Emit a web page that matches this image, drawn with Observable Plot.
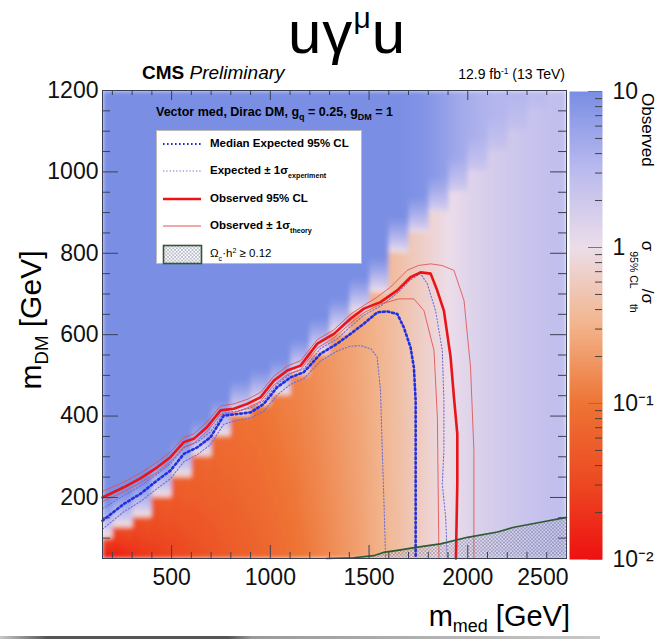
<!DOCTYPE html>
<html>
<head>
<meta charset="utf-8">
<script src="https://cdn.jsdelivr.net/npm/d3@7"></script>
<script src="https://cdn.jsdelivr.net/npm/@observablehq/plot@0.6"></script>
<style>
  html, body { margin: 0; padding: 0; background: #fff; }
  #chart { position: relative; width: 656px; height: 640px; overflow: hidden;
           font-family: "Liberation Sans", Arial, Helvetica, sans-serif; color: #000; }
  #chart > svg { position: absolute; top: 0; }
  .abs { position: absolute; white-space: nowrap; line-height: 1; }
  sub, sup { line-height: 0; }
  #title { left: 288px; top: 3px; font-size: 60px; line-height: 60px; letter-spacing: 1px; }
  #title sup { font-size: 0.5em; vertical-align: 0.85em; }
  #cms { left: 142px; top: 63px; font-size: 19px; }
  #lumi { right: 91px; top: 67px; font-size: 14px; }
  #lumi sup { font-size: 0.6em; vertical-align: 0.6em; }
  #header { left: 156px; top: 106px; font-size: 12.5px; font-weight: bold; }
  #header sub { font-size: 0.72em; vertical-align: -0.45em; }
  #legend { left: 156px; top: 130px; width: 206px; height: 134px; background: #fff;
            border: 1px solid #bbb; box-sizing: border-box; }
  .row { position: absolute; left: 0; height: 24px; display: flex; align-items: center; }
  .row svg { position: static; margin-left: 4px; }
  .row span { margin-left: 7px; font-size: 11.5px; font-weight: bold; white-space: nowrap; }
  .row span sub { font-size: 0.62em; vertical-align: -0.5em; }
  .row span sup { font-size: 0.62em; vertical-align: 0.6em; }
  #ylab { left: 31px; top: 320px; font-size: 30px; transform: translate(-50%, -50%) rotate(-90deg); }
  #ylab sub, #xlab sub { font-size: 0.62em; vertical-align: -0.35em; }
  #xlab { right: 86px; top: 602px; font-size: 29px; }
  #ztitle { left: 0; top: 0; font-size: 17px; transform-origin: 0 0;
            transform: translate(656px, 93px) rotate(90deg); }
  #ztitle sub { font-size: 0.62em; vertical-align: -1.1em; }
  #baseline { left: 0; top: 636px; width: 600px; height: 3px;
              background: linear-gradient(to right, #c8c8c8 0%, #555 8%, #555 38%, #9a9a9a 42%, #c8c8c8 100%); }
</style>
</head>
<body>
<div id="chart"></div>
<script>
// ---------- exclusion contours (m_med, m_DM) in GeV ----------
const obsMed = [150, 258, 342, 427, 494, 562, 612, 680, 748, 815, 883, 950, 1018, 1086, 1153, 1238, 1322, 1406, 1474, 1558, 1643, 1710, 1761, 1812, 1845, 1879, 1913, 1930, 1947, 1947, 1940];
const obsDM  = [200, 225, 247, 274, 299, 336, 344, 373, 414, 418, 430, 446, 487, 512, 524, 578, 602, 639, 664, 680, 709, 741, 753, 750, 709, 659, 545, 446, 356, 234, 50];

const thUpMed = [150, 258, 342, 427, 494, 562, 612, 680, 748, 815, 883, 950, 1018, 1086, 1153, 1238, 1322, 1406, 1474, 1540, 1609, 1693, 1750, 1812, 1870, 1930, 1981, 2014, 2031, 2031];
const thUpDM  = [215, 238, 260, 287, 312, 348, 356, 386, 425, 430, 441, 458, 498, 523, 536, 588, 612, 650, 672, 692, 717, 758, 770, 774, 770, 758, 684, 520, 315, 50];

const thDnMed = [150, 258, 342, 427, 494, 562, 612, 680, 748, 815, 883, 950, 1018, 1086, 1153, 1238, 1322, 1406, 1474, 1558, 1650, 1727, 1778, 1829, 1846, 1854];
const thDnDM  = [190, 214, 236, 262, 288, 324, 333, 362, 404, 408, 420, 436, 476, 502, 514, 567, 592, 628, 654, 675, 688, 688, 659, 561, 397, 50];

const expMed = [150, 258, 342, 427, 494, 562, 630, 697, 764, 832, 900, 967, 1035, 1102, 1170, 1254, 1339, 1406, 1474, 1542, 1592, 1643, 1676, 1710, 1727, 1736, 1736, 1736];
const expDM  = [143, 184, 209, 242, 266, 307, 323, 348, 401, 405, 409, 430, 471, 495, 508, 553, 578, 602, 627, 655, 657, 651, 618, 569, 520, 438, 315, 50];

const expUpMed = [150, 258, 342, 427, 494, 562, 630, 697, 764, 832, 900, 967, 1035, 1102, 1170, 1254, 1339, 1406, 1474, 1558, 1643, 1710, 1761, 1795, 1837, 1871, 1879, 1879, 1871, 1888, 1896];
const expUpDM  = [172, 205, 228, 258, 283, 322, 336, 361, 408, 412, 420, 438, 479, 504, 516, 566, 590, 620, 648, 670, 702, 735, 750, 725, 659, 561, 438, 315, 233, 151, 50];

const expDnMed = [150, 258, 342, 427, 494, 562, 630, 697, 764, 832, 900, 967, 1035, 1102, 1170, 1254, 1339, 1406, 1457, 1510, 1541, 1558, 1567, 1576, 1584];
const expDnDM  = [122, 165, 190, 222, 246, 288, 305, 330, 380, 390, 395, 412, 452, 478, 492, 535, 560, 572, 573, 565, 545, 463, 315, 180, 50];

// relic density boundary (region below is overabundant)
const relicMed = [1285, 1421, 1523, 1573, 1644, 1746, 1862, 1999, 2151, 2234, 2369, 2500];
const relicDM  = [50, 52, 57, 65, 70, 78, 86, 102, 115, 127, 139, 151];

// ---------- sigma95/sigma_th map, per 100 GeV m_med column ----------
const colMed       = [150, 200, 300, 400, 500, 600, 700, 800, 900, 1000, 1100, 1200, 1300, 1400, 1500, 1600, 1700, 1800, 1900, 2000, 2100, 2200, 2300, 2400];
const colEdgeDM    = [100, 125, 150, 200, 250, 300, 350, 400, 425, 450, 500, 550, 600, 650, 700, 800, 850, 900, 950, 1000, 1050, 1100, 1150, 1200];
const colRatioLow  = [0.011, 0.014, 0.02, 0.025, 0.03, 0.037, 0.045, 0.055, 0.065, 0.08, 0.1, 0.13, 0.17, 0.22, 0.3, 0.42, 0.6, 0.85, 1.15, 1.5, 1.8, 2.1, 2.4, 2.7];
const colRatioHigh = [0.03, 0.035, 0.04, 0.05, 0.06, 0.07, 0.08, 0.09, 0.1, 0.12, 0.14, 0.17, 0.21, 0.26, 0.33, 0.45, 0.62, 0.85, 1.15, 1.5, 1.8, 2.1, 2.4, 2.7];
const colRatioFar  = [10, 10, 10, 10, 10, 10, 10, 10, 10, 10, 10, 10, 10, 10, 10, 10, 9, 7, 5, 4, 3.5, 3.5, 3.5, 3.5];

// ---------- axis ticks ----------
const xMajor = [500, 1000, 1500, 2000, 2500];
const xMinor = [200, 300, 400, 600, 700, 800, 900, 1100, 1200, 1300, 1400, 1600, 1700, 1800, 1900, 2100, 2200, 2300, 2400];
const yMajor = [200, 400, 600, 800, 1000, 1200];
const yMinor = [100, 150, 250, 300, 350, 450, 500, 550, 650, 700, 750, 850, 900, 950, 1050, 1100, 1150];
const zMajor = [0.01, 0.1, 1, 10];
const zMinor = [0.02, 0.03, 0.04, 0.05, 0.06, 0.07, 0.08, 0.09, 0.2, 0.3, 0.4, 0.5, 0.6, 0.7, 0.8, 0.9, 2, 3, 4, 5, 6, 7, 8, 9];
const zLabels = {0.01: "10⁻²", 0.1: "10⁻¹", 1: "1", 10: "10"};

// palette from red (strong exclusion) through white to blue
const palette = ["#ee1111", "#ec4a22", "#ee7434", "#f2b48c", "#ecdde9", "#babaee", "#7a8ee4"];
const colorOpts = {type: "log", domain: [0.01, 10], clamp: true, interpolate: d3.piecewise(d3.interpolateRgb, palette)};

const FONT = '"Liberation Sans", Arial, Helvetica, sans-serif';
const tickStroke = "#3b4058";
const plain = d => String(d);

// column centres for smooth log interpolation along m_med
const colCentre = colMed.map((m, i) => (m + (i + 1 < colMed.length ? colMed[i + 1] : 2500)) / 2);
function logAt(arr, m) {
  const j = d3.bisectRight(colCentre, m);
  if (j <= 0) return Math.log10(arr[0]);
  if (j >= colCentre.length) return Math.log10(arr[arr.length - 1]);
  const t = (m - colCentre[j - 1]) / (colCentre[j] - colCentre[j - 1]);
  return Math.log10(arr[j - 1]) * (1 - t) + Math.log10(arr[j]) * t;
}
function ratioAt(m, d) {
  const i = Math.max(0, d3.bisectRight(colMed, m) - 1);
  const edge = colEdgeDM[i];
  const lo = logAt(colRatioLow, m), hi = logAt(colRatioHigh, m);
  if (d <= edge) {
    const t = Math.max(0, (d - 50) / (edge - 50));
    return 10 ** (lo + (hi - lo) * t);
  }
  const far = logAt(colRatioFar, m);
  const start = Math.max(hi, Math.log10(0.3));
  const t = Math.min(1, (d - edge) / 90);
  return 10 ** (start + (far - start) * Math.sqrt(t));
}

// plot frame geometry: 464 x 468 px for 2350 x 1150 GeV
const medPerPx = 2350 / 464, dmPerPx = 1150 / 468;
const pairs = (a, b) => d3.zip(a, b);

const main = Plot.plot({
  width: 656, height: 640,
  marginLeft: 102, marginRight: 90, marginTop: 90, marginBottom: 82,
  x: {domain: [150, 2500], axis: null},
  y: {domain: [50, 1200], axis: null},
  color: colorOpts,
  style: {background: "none", fontFamily: FONT, fontSize: "23px", color: "#111", overflow: "visible"},
  marks: [
    Plot.raster({fill: ratioAt, x1: 150, x2: 2500, y1: 50, y2: 1200, pixelSize: 1}),
    Plot.areaY(pairs(relicMed, relicDM), {x: d => d[0], y1: 50, y2: d => d[1], fill: "url(#relicHatch)"}),
    Plot.line(pairs(expUpMed, expUpDM), {stroke: "#6d6fd6", strokeWidth: 1.1, strokeDasharray: "1.3,2"}),
    Plot.line(pairs(expDnMed, expDnDM), {stroke: "#6d6fd6", strokeWidth: 1.1, strokeDasharray: "1.3,2"}),
    Plot.line(pairs(thUpMed, thUpDM), {stroke: "#e05050", strokeWidth: 1, strokeOpacity: 0.85}),
    Plot.line(pairs(thDnMed, thDnDM), {stroke: "#e05050", strokeWidth: 1, strokeOpacity: 0.85}),
    Plot.line(pairs(expMed, expDM), {stroke: "#1f30e0", strokeWidth: 2.6, strokeDasharray: "1.8,2.8"}),
    Plot.line(pairs(obsMed, obsDM), {stroke: "#ea1418", strokeWidth: 2.6}),
    Plot.line(pairs(relicMed, relicDM), {stroke: "#2e5b31", strokeWidth: 1.6}),
    Plot.frame({stroke: "#3a3f50", strokeWidth: 1}),
    // ticks pointing into the frame on all four sides
    Plot.ruleX(xMinor, {y1: 50, y2: 50 + 6 * dmPerPx, stroke: tickStroke}),
    Plot.ruleX(xMajor, {y1: 50, y2: 50 + 13 * dmPerPx, stroke: tickStroke}),
    Plot.ruleX(xMinor, {y1: 1200 - 5 * dmPerPx, y2: 1200, stroke: tickStroke}),
    Plot.ruleX(xMajor, {y1: 1200 - 10 * dmPerPx, y2: 1200, stroke: tickStroke}),
    Plot.ruleY(yMinor, {x1: 150, x2: 150 + 8 * medPerPx, stroke: tickStroke}),
    Plot.ruleY(yMajor, {x1: 150, x2: 150 + 16 * medPerPx, stroke: tickStroke}),
    Plot.ruleY(yMinor, {x1: 2500 - 8 * medPerPx, x2: 2500, stroke: tickStroke}),
    Plot.ruleY(yMajor, {x1: 2500 - 16 * medPerPx, x2: 2500, stroke: tickStroke}),
    Plot.axisX(xMajor.slice(0, 4), {anchor: "bottom", tickSize: 0, tickPadding: 10, fontSize: 23, fill: "#111", tickFormat: plain}),
    Plot.text([2500], {x: d => d, frameAnchor: "bottom", lineAnchor: "top", textAnchor: "end", dx: 2, dy: 10, fontSize: 23, fill: "#111", text: plain}),
    Plot.axisY(yMajor, {anchor: "left", tickSize: 0, tickPadding: 4, fontSize: 23, fill: "#111", tickFormat: plain})
  ]
});
main.style.left = "0px";

// hatch pattern and a light softening filter for the map
const defs = d3.select(main).insert("defs", ":first-child");
const pat = defs.append("pattern").attr("id", "relicHatch").attr("patternUnits", "userSpaceOnUse")
  .attr("width", 3.5).attr("height", 3.5);
pat.append("rect").attr("width", 3.5).attr("height", 3.5).attr("fill", "#ffffff").attr("fill-opacity", 0.18);
pat.append("path").attr("d", "M0,0L3.5,3.5M3.5,0L0,3.5").attr("stroke", "#3c4470").attr("stroke-width", 0.6).attr("stroke-opacity", 0.55);
const soft = defs.append("filter").attr("id", "soften").attr("x", 0).attr("y", 0).attr("width", 1).attr("height", 1);
soft.append("feGaussianBlur").attr("stdDeviation", 2.2).attr("edgeMode", "duplicate");
d3.select(main).select('g[aria-label="raster"] image').attr("filter", "url(#soften)");

// colour bar
const bar = Plot.plot({
  width: 87, height: 640,
  marginLeft: 0, marginRight: 54, marginTop: 91, marginBottom: 81,
  x: {domain: [0, 1], axis: null},
  y: {type: "log", domain: [0.01, 10], axis: null},
  color: colorOpts,
  style: {background: "none", fontFamily: FONT, fontSize: "23px", color: "#111", overflow: "visible"},
  marks: [
    Plot.raster({fill: (x, y) => y, x1: 0, x2: 1, y1: 0.01, y2: 10, pixelSize: 1}),
    Plot.ruleY(zMinor, {x1: 1 - 7 / 33, x2: 1, stroke: "#444"}),
    Plot.ruleY(zMajor, {x1: 1 - 14 / 33, x2: 1, stroke: "#777"}),
    Plot.axisY(zMajor, {anchor: "right", tickSize: 0, tickPadding: 10, fontSize: 23, fill: "#111",
                        tickFormat: v => zLabels[v]})
  ]
});
bar.style.left = "569px";

const chart = document.getElementById("chart");
chart.append(main, bar);

// texts around the frame
const html = (id, inner) => {
  const el = document.createElement("div");
  el.id = id; el.className = "abs"; el.innerHTML = inner;
  chart.append(el);
  return el;
};
html("title", "uγ<sup>μ</sup>u");
html("cms", "<b>CMS</b> <i>Preliminary</i>");
html("lumi", "12.9 fb<sup>-1</sup> (13 TeV)");
html("header", "Vector med, Dirac DM, g<sub>q</sub> = 0.25, g<sub>DM</sub> = 1");
html("ylab", "m<sub>DM</sub> [GeV]");
html("xlab", "m<sub>med</sub> [GeV]");
html("ztitle", "Observed<span style='display:inline-block;width:74px'></span>σ<sub>95% CL</sub>/σ<sub>th</sub>");
html("baseline", "");

// legend
const legendItems = [
  {label: "Median Expected 95% CL", kind: "median"},
  {label: "Expected ± 1σ<sub>experiment</sub>", kind: "expBand"},
  {label: "Observed 95% CL", kind: "obs"},
  {label: "Observed ± 1σ<sub>theory</sub>", kind: "obsBand"},
  {label: "Ω<sub>c</sub>·h<sup>2</sup> ≥ 0.12", kind: "relic"}
];
const legendStyle = {
  median: {stroke: "#1f30e0", width: 2.2, dash: "1.6,2.4"},
  expBand: {stroke: "#6d6fd6", width: 1.1, dash: "1.3,2"},
  obs: {stroke: "#ea1418", width: 2.4, dash: null},
  obsBand: {stroke: "#e05050", width: 1, dash: null}
};
const legend = html("legend", "");
const rowTops = [1, 28, 56, 83, 111];
legendItems.forEach((item, i) => {
  const row = document.createElement("div");
  row.className = "row";
  row.style.top = rowTops[i] + "px";
  const ns = "http://www.w3.org/2000/svg";
  const sw = document.createElementNS(ns, "svg");
  sw.setAttribute("width", 42); sw.setAttribute("height", 22);
  if (item.kind === "relic") {
    const r = document.createElementNS(ns, "rect");
    r.setAttribute("x", 2.5); r.setAttribute("y", 2.5); r.setAttribute("width", 38); r.setAttribute("height", 18);
    r.setAttribute("fill", "url(#relicHatch)"); r.setAttribute("stroke", "#2e5b31"); r.setAttribute("stroke-width", 1.6);
    sw.append(r);
  } else {
    const s = legendStyle[item.kind];
    const l = document.createElementNS(ns, "line");
    l.setAttribute("x1", 2); l.setAttribute("x2", 40); l.setAttribute("y1", 11); l.setAttribute("y2", 11);
    l.setAttribute("stroke", s.stroke); l.setAttribute("stroke-width", s.width);
    if (s.dash) l.setAttribute("stroke-dasharray", s.dash);
    sw.append(l);
  }
  const tx = document.createElement("span");
  tx.innerHTML = item.label;
  if (item.kind === "relic") tx.style.fontWeight = "normal";
  row.append(sw, tx);
  legend.append(row);
});
</script>
</body>
</html>
